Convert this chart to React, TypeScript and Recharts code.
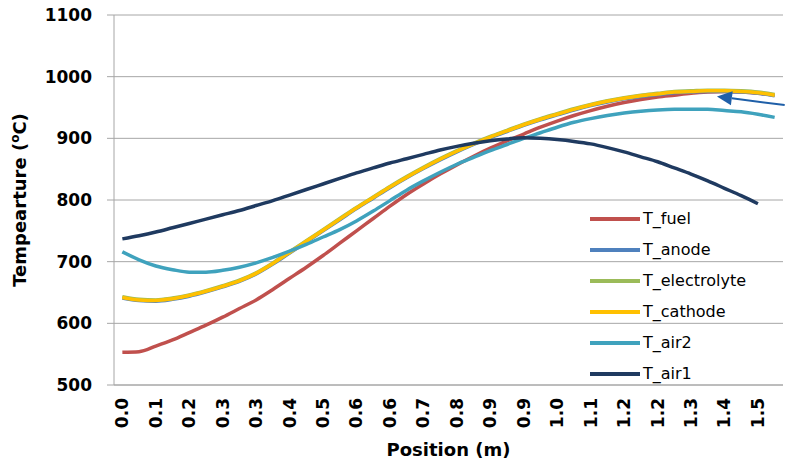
import React from "react";
import {
    CartesianGrid,
    Legend,
    Line,
    LineChart,
    ReferenceLine,
    XAxis,
    YAxis,
} from "recharts";

// position labels for the 40 sample points (only every other one is shown)
const positions = [
    "0.0", "0.0", "0.1", "0.1", "0.2", "0.2", "0.3", "0.3", "0.3", "0.4",
    "0.4", "0.4", "0.5", "0.5", "0.6", "0.6", "0.6", "0.7", "0.7", "0.8",
    "0.8", "0.8", "0.9", "0.9", "0.9", "1.0", "1.0", "1.1", "1.1", "1.1",
    "1.2", "1.2", "1.2", "1.3", "1.3", "1.4", "1.4", "1.5", "1.5", "1.5",
];

const tFuel = [
    553, 554, 563, 573, 585, 597, 610, 624, 638, 655,
    673, 691, 710, 730, 750, 770, 790, 809, 826, 842,
    857, 871, 884, 896, 907, 918, 928, 937, 945, 952,
    958, 963, 967, 970, 973, 975, 976, 975, 973, 970,
];
const tAnode = [
    641, 637, 636, 639, 644, 651, 659, 668, 680, 696,
    714, 732, 750, 768, 786, 803, 820, 836, 851, 865,
    878, 890, 901, 911, 921, 930, 938, 946, 953, 959,
    964, 968, 971, 974, 975, 976, 976, 975, 973, 969,
];
const tElectrolyte = [
    643, 639, 638, 641, 646, 653, 661, 670, 682, 698,
    716, 734, 752, 770, 788, 805, 822, 838, 853, 867,
    880, 892, 903, 913, 923, 932, 940, 948, 955, 961,
    966, 970, 973, 976, 977, 978, 978, 977, 975, 971,
];
const tCathode = [
    642, 638, 637, 640, 645, 652, 660, 669, 681, 697,
    715, 733, 751, 769, 787, 804, 821, 837, 852, 866,
    879, 891, 902, 912, 922, 931, 939, 947, 954, 960,
    965, 969, 972, 975, 976, 977, 977, 976, 974, 970,
];
const tAir2 = [
    716, 703, 693, 687, 683, 683, 686, 691, 698, 707,
    717, 728, 740, 752, 766, 782, 799, 816, 831, 845,
    858, 869, 880, 890, 900, 909, 918, 926, 932, 937,
    941, 944, 946, 947, 947, 947, 945, 943, 939, 934,
];
const tAir1 = [
    737, 742, 748, 755, 762, 769, 776, 783, 791, 799,
    808, 817, 826, 835, 844, 852, 860, 867, 874, 881,
    887, 892, 896, 899, 901, 900, 898, 895, 891, 885,
    878, 870, 862, 852, 842, 831, 819, 807, 794, null,
];

const yTicks = [500, 600, 700, 800, 900, 1000, 1100];

const series = [
    { key: "T_fuel", values: tFuel, color: "#c0504d" },
    { key: "T_anode", values: tAnode, color: "#4f81bd" },
    { key: "T_electrolyte", values: tElectrolyte, color: "#9bbb59" },
    { key: "T_cathode", values: tCathode, color: "#ffc000" },
    { key: "T_air2", values: tAir2, color: "#3fa2bd" },
    { key: "T_air1", values: tAir1, color: "#1f3a60" },
];

const data = positions.map((p, i) => {
    const row: Record<string, any> = { idx: i, pos: p };
    series.forEach((s) => (row[s.key] = s.values[i]));
    return row;
});

const labelIdx = positions.map((_, i) => i).filter((i) => i % 2 === 0);
const boundaries = [...positions.map((_, i) => i - 0.5), positions.length - 0.5];

const FONT = "'DejaVu Sans', sans-serif";
const GRID = "#a6a6a6";

function PosTick({ x, y, payload }: any) {
    return (
        <text
            x={x}
            y={y}
            transform={`rotate(-90 ${x} ${y})`}
            textAnchor="end"
            dy="0.35em"
            fontFamily={FONT}
            fontWeight="bold"
            fontSize={17}
            fill="#000">
            {positions[payload.value]}
        </text>
    );
}

function NoTick() {
    return <g />;
}

function XTitle({ viewBox }: any) {
    const vb = viewBox || { x: 114, y: 385, width: 669, height: 81 };
    return (
        <text
            x={vb.x + vb.width / 2}
            y={vb.y + 71}
            textAnchor="middle"
            fontFamily={FONT}
            fontWeight="bold"
            fontSize={18}
            fill="#000">
            Position (m)
        </text>
    );
}

function YTitle({ viewBox }: any) {
    const vb = viewBox || { x: 0, y: 15, width: 114, height: 370 };
    const cx = vb.x + 20;
    const cy = vb.y + vb.height / 2;
    return (
        <text
            x={cx}
            y={cy}
            transform={`rotate(-90 ${cx} ${cy})`}
            textAnchor="middle"
            dy="0.35em"
            fontFamily={FONT}
            fontWeight="bold"
            fontSize={18}
            fill="#000">
            Tempearture (
            <tspan fontSize={12} dy={-7}>o</tspan>
            <tspan dy={7}>C)</tspan>
        </text>
    );
}

function ArrowShape({ x1, y1, x2, y2 }: any) {
    const ang = Math.atan2(y2 - y1, x2 - x1);
    const len = 15;
    const hw = 7;
    const bx = x2 - len * Math.cos(ang);
    const by = y2 - len * Math.sin(ang);
    const pts = [
        `${x2},${y2}`,
        `${bx + hw * Math.sin(ang)},${by - hw * Math.cos(ang)}`,
        `${bx - hw * Math.sin(ang)},${by + hw * Math.cos(ang)}`,
    ].join(" ");
    return (
        <g>
            <line x1={x1} y1={y1} x2={bx} y2={by} stroke="#1f5fa8" strokeWidth={2} />
            <polygon points={pts} fill="#1f5fa8" />
        </g>
    );
}

function LegendBox() {
    return (
        <div style={{ fontFamily: FONT, fontSize: 16, color: "#000" }}>
            {series.map((s) => (
                <div
                    key={s.key}
                    style={{ display: "flex", alignItems: "center", height: 31 }}>
                    <span
                        style={{
                            display: "inline-block",
                            width: 50,
                            height: 4,
                            background: s.color,
                            marginRight: 3,
                        }}
                    />
                    <span>{s.key}</span>
                </div>
            ))}
        </div>
    );
}

export default function App() {
    return (
        <div
            style={{
                position: "absolute",
                left: 0,
                top: 0,
                width: 785,
                height: 466,
                background: "#fff",
            }}>
            <LineChart
                width={785}
                height={466}
                data={data}
                margin={{ top: 15, right: 2, bottom: 0, left: 0 }}>
                <CartesianGrid vertical={false} stroke={GRID} />
                <XAxis
                    xAxisId="minor"
                    type="number"
                    dataKey="idx"
                    domain={[-0.5, 39.5]}
                    ticks={boundaries}
                    interval={0}
                    tick={NoTick}
                    tickSize={6}
                    height={0}
                    axisLine={false}
                    tickLine={{ stroke: GRID }}
                />
                <XAxis
                    type="number"
                    dataKey="idx"
                    domain={[-0.5, 39.5]}
                    ticks={labelIdx}
                    interval={0}
                    tick={PosTick}
                    tickLine={false}
                    tickSize={6}
                    tickMargin={7}
                    height={81}
                    axisLine={{ stroke: GRID }}
                    label={XTitle}
                />
                <YAxis
                    type="number"
                    domain={[500, 1100]}
                    ticks={yTicks}
                    interval={0}
                    width={114}
                    tickSize={7}
                    tickMargin={15}
                    axisLine={{ stroke: GRID }}
                    tickLine={{ stroke: GRID }}
                    tick={{ fontFamily: FONT, fontWeight: "bold", fontSize: 17, fill: "#000" }}
                    label={YTitle}
                />
                {series.map((s) => (
                    <Line
                        key={s.key}
                        dataKey={s.key}
                        type="monotone"
                        stroke={s.color}
                        strokeWidth={3.5}
                        dot={false}
                        isAnimationActive={false}
                    />
                ))}
                <ReferenceLine
                    segment={[
                        { x: 39.6, y: 954 },
                        { x: 35.55, y: 968 },
                    ]}
                    ifOverflow="visible"
                    shape={ArrowShape}
                />
                <Legend
                    layout="vertical"
                    align="center"
                    verticalAlign="middle"
                    content={LegendBox}
                    wrapperStyle={{ left: 590, top: 203, width: 190 }}
                />
            </LineChart>
        </div>
    );
}
